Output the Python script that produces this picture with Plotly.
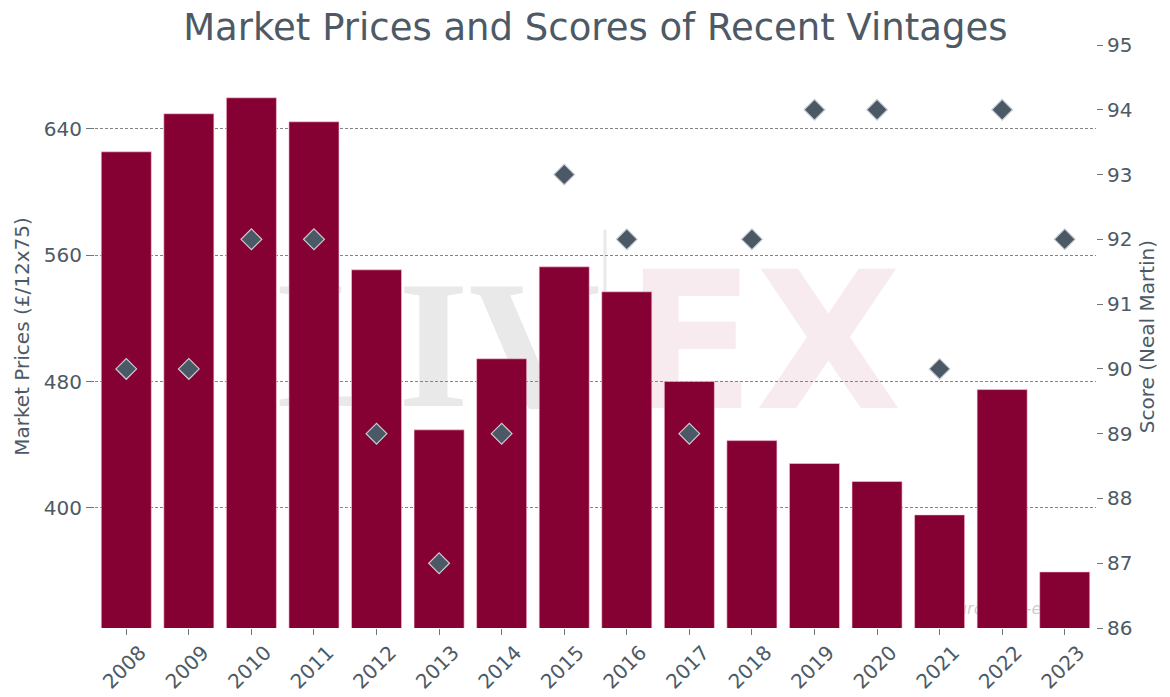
import plotly.graph_objects as go

years = ["2008", "2009", "2010", "2011", "2012", "2013", "2014", "2015",
         "2016", "2017", "2018", "2019", "2020", "2021", "2022", "2023"]
prices = [625.4, 649.5, 659.6, 644.4, 550.7, 449.4, 494.4, 552.6,
          536.8, 480.0, 442.6, 428.1, 416.7, 395.6, 474.9, 359.5]
scores = [90, 90, 92, 92, 89, 87, 89, 93, 92, 89, 92, 94, 94, 90, 94, 92]

price_ticks = [400, 480, 560, 640]
score_ticks = list(range(86, 96))

TXT = "#4d5a65"
FONT = "DejaVu Sans"

fig = go.Figure()
fig.add_trace(go.Bar(
    x=years, y=prices, name="Market Prices",
    marker=dict(color="#850033", line=dict(color="rgba(255,200,215,0.6)", width=1)),
    yaxis="y",
))
fig.add_trace(go.Scatter(
    x=years, y=scores, name="Score", mode="markers",
    marker=dict(symbol="diamond", size=16, color="#4b5966",
                line=dict(color="#c8cdd2", width=1.2)),
    yaxis="y2",
))

# Watermark (behind the data)
fig.add_shape(type="rect", xref="paper", yref="paper",
              x0=0.165, x1=0.521, y0=0.295, y1=0.745, layer="below",
              line=dict(width=0), fillcolor="rgba(0,0,0,0)",
              label=dict(text="LIV", textposition="middle center",
                         font=dict(family="Liberation Serif", size=182, weight="bold",
                                   color="rgba(200,200,200,0.4)")))
fig.add_shape(type="rect", xref="paper", yref="paper",
              x0=0.493, x1=0.843, y0=0.288, y1=0.738, layer="below",
              line=dict(width=0), fillcolor="rgba(0,0,0,0)",
              label=dict(text="EX", textposition="middle center",
                         font=dict(family="DejaVu Sans", size=190, weight="bold",
                                   color="rgba(190,90,120,0.12)")))
fig.add_shape(type="line", xref="paper", yref="paper",
              x0=0.5095, x1=0.5095, y0=0.55, y1=0.683, layer="below",
              line=dict(color="rgba(200,200,205,0.4)", width=3))
fig.add_shape(type="rect", xref="paper", yref="paper",
              x0=0.818, x1=0.978, y0=0.0, y1=0.072, layer="below",
              line=dict(width=0), fillcolor="rgba(0,0,0,0)",
              label=dict(text="<i>Source: Liv-ex</i>", textposition="middle center",
                         font=dict(family=FONT, size=16,
                                   color="rgba(170,170,180,0.6)")))

fig.update_layout(
    width=1170, height=697,
    margin=dict(l=87, r=82, t=37, b=77),
    paper_bgcolor="white", plot_bgcolor="white",
    showlegend=False,
    bargap=0.2,
    font=dict(family=FONT, color=TXT, size=20),
    title=dict(text="Market Prices and Scores of Recent Vintages",
               x=0.502, xanchor="center", y=0.972, yanchor="middle",
               font=dict(family=FONT, size=37, color=TXT)),
    xaxis=dict(type="category", range=[-0.5, len(years) - 0.5],
               showgrid=False, showline=False, zeroline=False,
               automargin=False,
               ticks="outside", ticklen=6, tickcolor="#6a7680", tickangle=-45,
               ticklabelshift=14, ticklabelstandoff=-2,
               tickfont=dict(size=20, color=TXT)),
    yaxis=dict(range=[324, 693], tickvals=price_ticks, showgrid=True,
               gridcolor="#80868c", griddash="3px,2px", gridwidth=1,
               zeroline=False, showline=False, automargin=False,
               ticks="outside", ticklen=8, tickcolor="#6a7680",
               tickfont=dict(size=20, color=TXT),
               title=dict(text="Market Prices (£/12x75)", standoff=8,
                          font=dict(size=20, color=TXT))),
    yaxis2=dict(range=[86, 95], tickvals=score_ticks, overlaying="y", side="right",
                showgrid=False, zeroline=False, showline=False, automargin=False,
                ticks="outside", ticklen=6, tickcolor="#6a7680",
                tickfont=dict(size=20, color=TXT),
                title=dict(text="Score (Neal Martin)", standoff=8,
                           font=dict(size=20, color=TXT))),
)

fig.write_html("out.html")
